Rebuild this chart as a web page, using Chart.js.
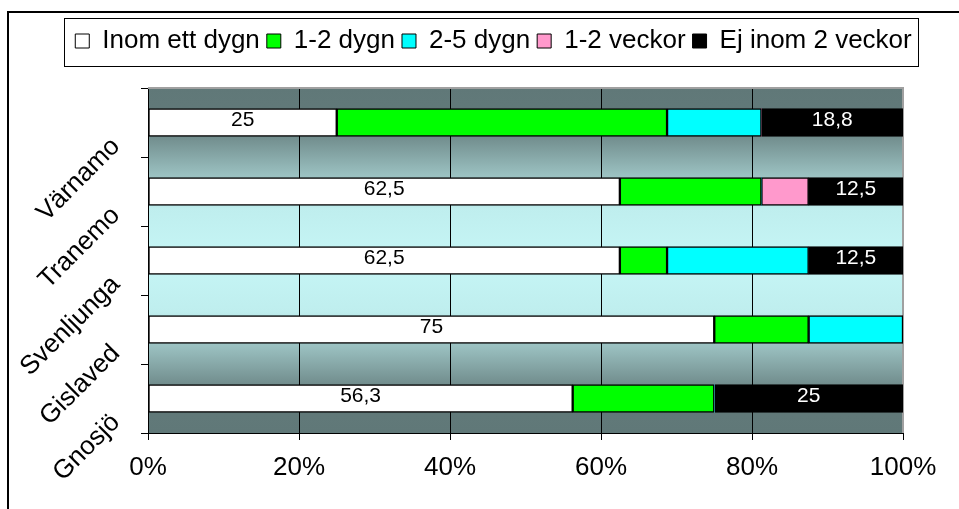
<!DOCTYPE html>
<html><head><meta charset="utf-8">
<script src="https://cdn.jsdelivr.net/npm/chart.js@4/dist/chart.umd.min.js"></script>
<style>html,body{margin:0;padding:0;background:#fff;overflow:hidden}</style>
</head><body>
<canvas id="c" width="959" height="509"></canvas>
<script>
// ---- data ----
const categories = ['Värnamo', 'Tranemo', 'Svenljunga', 'Gislaved', 'Gnosjö'];
const seriesNames = ['Inom ett dygn', '1-2 dygn', '2-5 dygn', '1-2 veckor', 'Ej inom 2 veckor'];
const inomEttDygn    = [25, 62.5, 62.5, 75, 56.25];
const enTillTvaDygn  = [43.75, 18.75, 6.25, 12.5, 18.75];
const tvaTillFemDygn = [12.5, 0, 18.75, 12.5, 0];
const enTillTvaVeckor = [0, 6.25, 0, 0, 0];
const ejInomTvaVeckor = [18.75, 12.5, 12.5, 0, 25];
const xTickValues = [0, 20, 40, 60, 80, 100];
const labelledSeries = [0, 4];

// ---- styles ----
const seriesValues = [inomEttDygn, enTillTvaDygn, tvaTillFemDygn, enTillTvaVeckor, ejInomTvaVeckor];
const seriesColors = ['#ffffff', '#00ff00', '#00ffff', '#ff99cc', '#000000'];
const labelColors = ['#000000', '#000000', '#000000', '#000000', '#ffffff'];
const FAMILY = "'Liberation Sans', Arial, sans-serif";

function fmt(v) {
  const s = Number.isInteger(v) ? String(v) : v.toFixed(1);
  return s.replace('.', ',');
}

const decor = {
  id: 'decor',
  beforeDraw(chart) {
    const {ctx, chartArea: a, width, height} = chart;
    ctx.save();
    ctx.fillStyle = '#ffffff';
    ctx.fillRect(0, 0, width, height);
    const g = ctx.createLinearGradient(0, a.top, 0, a.bottom);
    g.addColorStop(0, '#607878');
    g.addColorStop(0.1, '#627a7a');
    g.addColorStop(0.35, '#bfeeee');
    g.addColorStop(0.5, '#c6f6f6');
    g.addColorStop(0.65, '#bfeeee');
    g.addColorStop(0.9, '#627a7a');
    g.addColorStop(1, '#607878');
    ctx.fillStyle = g;
    ctx.fillRect(a.left, a.top, a.right - a.left, a.bottom - a.top);
    // outer chart frame
    ctx.strokeStyle = '#000';
    ctx.lineWidth = 2;
    ctx.strokeRect(8, 12, width + 40, height + 40);
    ctx.restore();
  },
  beforeDatasetsDraw(chart) {
    const {ctx, chartArea: a} = chart;
    ctx.save();
    ctx.strokeStyle = '#a0a0a0';
    ctx.lineWidth = 2;
    ctx.beginPath();
    ctx.moveTo(a.left, a.top);
    ctx.lineTo(a.right, a.top);
    ctx.lineTo(a.right, a.bottom);
    ctx.stroke();
    ctx.restore();
  },
  afterDatasetsDraw(chart) {
    const ctx = chart.ctx;
    ctx.save();
    ctx.font = '21px ' + FAMILY;
    ctx.textAlign = 'center';
    ctx.textBaseline = 'middle';
    labelledSeries.forEach(di => {
      const meta = chart.getDatasetMeta(di);
      ctx.fillStyle = labelColors[di];
      meta.data.forEach((bar, i) => {
        const v = chart.data.datasets[di].data[i];
        if (!v) return;
        const p = bar.getProps(['x', 'y', 'base'], true);
        ctx.fillText(fmt(v), (p.x + p.base) / 2, p.y - 2);
      });
    });
    ctx.restore();
  },
  afterDraw(chart) {
    const lg = chart.legend;
    if (!lg || !lg.legendHitBoxes || !lg.legendHitBoxes.length) return;
    const hb = lg.legendHitBoxes;
    const first = hb[0], last = hb[hb.length - 1];
    const ctx = chart.ctx;
    ctx.save();
    ctx.strokeStyle = '#000';
    ctx.lineWidth = 1;
    const l = Math.round(first.left - 11) + 0.5;
    const r = Math.round(last.left + last.width + 6) + 0.5;
    const t = Math.round(first.top - 10) + 0.5;
    const b = Math.round(first.top + 38) + 0.5;
    ctx.strokeRect(l, t, r - l, b - t);
    ctx.restore();
  }
};

new Chart(document.getElementById('c'), {
  type: 'bar',
  data: {
    labels: categories,
    datasets: seriesNames.map((name, i) => ({
      label: name,
      data: seriesValues[i],
      backgroundColor: seriesColors[i],
      borderColor: '#000000',
      borderWidth: c => (c.raw === 0 ? 0 : 1.5),
      borderSkipped: false,
      barThickness: 28,
      xAxisID: 'x',
      yAxisID: 'y'
    }))
  },
  options: {
    indexAxis: 'y',
    responsive: false,
    animation: false,
    events: [],
    layout: {padding: {left: 20, right: -8, top: 21, bottom: 0}},
    scales: {
      x: {
        stacked: true, min: 0, max: 100,
        afterBuildTicks: s => { s.ticks = xTickValues.map(v => ({value: v})); },
        ticks: {
          callback: v => v + '%', color: '#000', maxRotation: 0,
          font: {size: 26, family: FAMILY}, padding: 12
        },
        grid: {color: '#000', lineWidth: 1, tickLength: 7, drawTicks: true},
        border: {display: true, color: '#000', width: 1},
        afterFit: s => { s.height = 76; }
      },
      y: {
        stacked: true,
        ticks: {
          color: '#000', font: {size: 26, family: FAMILY},
          minRotation: 45, maxRotation: 45, padding: 25, labelOffset: 20
        },
        grid: {drawOnChartArea: false, color: '#000', tickLength: 7, lineWidth: 1},
        border: {display: true, color: '#000', width: 1},
        afterFit: s => { s.width = 128; }
      },
      spacer: {
        type: 'linear', position: 'right', display: true,
        grid: {display: false, drawTicks: false},
        ticks: {display: false},
        border: {display: false},
        afterFit: s => { s.width = 64; }
      }
    },
    plugins: {
      legend: {
        position: 'top', align: 'center',
        labels: {
          color: '#000', font: {size: 26, family: FAMILY},
          boxWidth: 14, boxHeight: 14, padding: 7,
          generateLabels: chart => Chart.defaults.plugins.legend.labels.generateLabels(chart)
            .map(l => Object.assign(l, {lineWidth: 1, strokeStyle: '#000'}))
        }
      },
      title: {display: true, text: '', weight: 500, position: 'top', padding: 0, font: {size: 24, lineHeight: 1}},
      tooltip: {enabled: false}
    }
  },
  plugins: [decor]
});
</script>
</body></html>
